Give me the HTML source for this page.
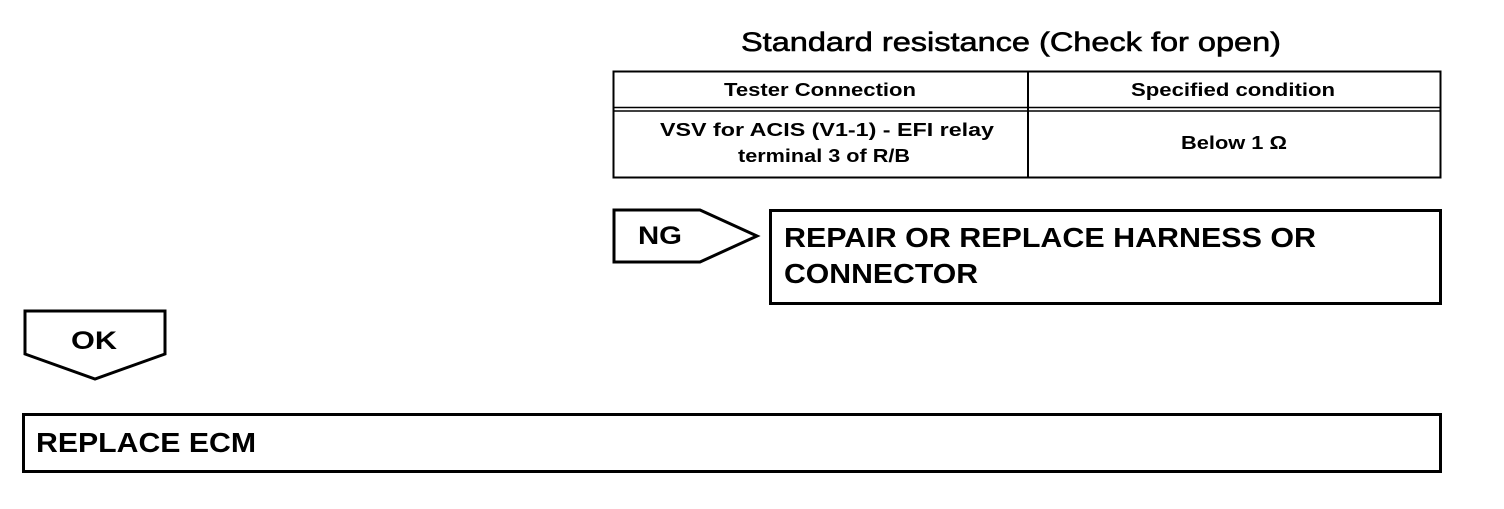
<!DOCTYPE html>
<html><head><style>html,body{margin:0;padding:0;background:#fff;}</style></head>
<body>
<svg width="1504" height="504" xmlns="http://www.w3.org/2000/svg" font-family="Liberation Sans, Arial, sans-serif" font-weight="bold">
<text x="741" y="51" font-size="27" font-weight="normal" textLength="540" lengthAdjust="spacingAndGlyphs" stroke="#000" stroke-width="0.6">Standard resistance (Check for open)</text>
<rect x="613.5" y="71.5" width="827" height="106" fill="none" stroke="#000" stroke-width="2"/>
<line x1="613" y1="107.5" x2="1441" y2="107.5" stroke="#000" stroke-width="1.5"/>
<line x1="613" y1="111" x2="1441" y2="111" stroke="#000" stroke-width="1.5"/>
<line x1="1028" y1="71" x2="1028" y2="177" stroke="#000" stroke-width="2"/>
<text x="724" y="96" font-size="18" textLength="192" lengthAdjust="spacingAndGlyphs">Tester Connection</text>
<text x="1131" y="96" font-size="18" textLength="204" lengthAdjust="spacingAndGlyphs">Specified condition</text>
<text x="660" y="136" font-size="18" textLength="334" lengthAdjust="spacingAndGlyphs">VSV for ACIS (V1-1) - EFI relay</text>
<text x="738" y="162" font-size="18" textLength="172" lengthAdjust="spacingAndGlyphs">terminal 3 of R/B</text>
<text x="1181" y="149" font-size="18" textLength="106" lengthAdjust="spacingAndGlyphs">Below 1 Ω</text>
<polygon points="614,210 700,210 757,236 700,262 614,262" fill="none" stroke="#000" stroke-width="3"/>
<text x="638" y="244" font-size="25" textLength="44" lengthAdjust="spacingAndGlyphs">NG</text>
<rect x="770.5" y="210.5" width="670" height="93" fill="none" stroke="#000" stroke-width="3"/>
<text x="784" y="247" font-size="28" textLength="532" lengthAdjust="spacingAndGlyphs">REPAIR OR REPLACE HARNESS OR</text>
<text x="784" y="283" font-size="28" textLength="194" lengthAdjust="spacingAndGlyphs">CONNECTOR</text>
<polygon points="25,311 165,311 165,354 95,379 25,354" fill="none" stroke="#000" stroke-width="3"/>
<text x="71" y="349" font-size="25" textLength="46" lengthAdjust="spacingAndGlyphs">OK</text>
<rect x="23.5" y="414.5" width="1417" height="57" fill="none" stroke="#000" stroke-width="3"/>
<text x="36" y="452" font-size="28" textLength="220" lengthAdjust="spacingAndGlyphs">REPLACE ECM</text>
</svg>
</body></html>
